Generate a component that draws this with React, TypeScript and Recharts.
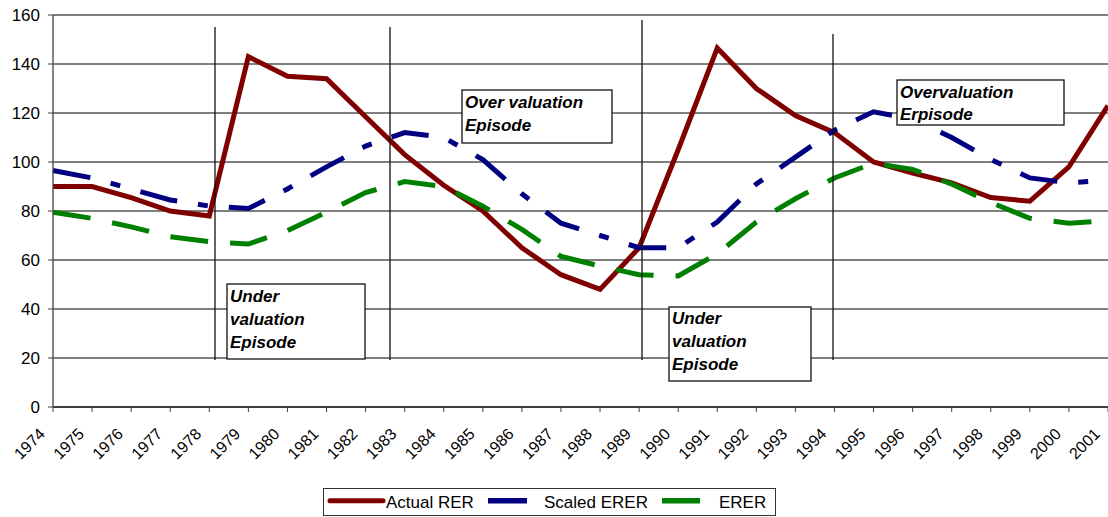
import React from 'react';
import { LineChart, Line, XAxis, YAxis, CartesianGrid, Legend } from 'recharts';

const years = [1974, 1975, 1976, 1977, 1978, 1979, 1980, 1981, 1982, 1983, 1984, 1985, 1986, 1987,
  1988, 1989, 1990, 1991, 1992, 1993, 1994, 1995, 1996, 1997, 1998, 1999, 2000, 2001];
const actualRER = [90, 90, 85.5, 80, 78, 143, 135, 134, 118.5, 103, 90.5, 80, 65, 54,
  48, 65, 105, 146.5, 130, 119, 112, 100, 95.5, 91.5, 85.5, 84, 98, 123];
const scaledERER = [96.5, 93.5, 89, 84.5, 82, 81, 89, 98, 106.5, 112, 110, 101, 87, 75,
  70, 65, 65, 75.5, 91, 102, 113, 120.5, 117.5, 110, 101, 93.5, 91.5, 92.5];
const erer = [79.5, 77, 73.5, 69.5, 67.5, 66.5, 72, 79.5, 87.5, 92, 90, 82, 72.5, 61.5,
  57.5, 54, 53.5, 62.5, 75.5, 85, 93.5, 99.5, 97, 91, 83.5, 77, 75, 76];
const yTicks = [0, 20, 40, 60, 80, 100, 120, 140, 160];
const seriesNames = ['Actual RER', 'Scaled ERER', 'ERER'];
const episodeLabels = [
  ['Under', 'valuation', 'Episode'],
  ['Over valuation', 'Episode'],
  ['Under', 'valuation', 'Episode'],
  ['Overvaluation', 'Erpisode'],
];

const data = years.map((y, i) => ({
  year: String(y),
  actual: actualRER[i],
  scaled: scaledERER[i],
  erer: erer[i],
}));

const FONT = "Arial, 'Liberation Sans', sans-serif";
const RED = '#800000';
const BLUE = '#000080';
const GREEN = '#008000';

const XTick = (props: any) => {
  const { x, y, payload } = props;
  const ax = x - 7;
  const ay = y + 21;
  return (
    <text x={ax} y={ay} transform={`rotate(-45 ${ax} ${ay})`} textAnchor="end"
      fontSize={16} fontFamily={FONT} fill="#000">
      {payload.value}
    </text>
  );
};

const LegendContent = () => (
  <svg width={453} height={28} style={{ display: 'block' }}>
    <rect x={0.5} y={0.5} width={452} height={27} fill="#fff" stroke="#333" strokeWidth={1} />
    <line x1={7} y1={12.7} x2={60} y2={12.7} stroke={RED} strokeWidth={5} strokeLinecap="round" />
    <text x={63} y={19.5} fontSize={17} fontFamily={FONT} fill="#000">{seriesNames[0]}</text>
    <rect x={165} y={10} width={39} height={5.5} fill={BLUE} />
    <text x={221} y={19.5} fontSize={17} fontFamily={FONT} fill="#000">{seriesNames[1]}</text>
    <rect x={339} y={10} width={38} height={5.5} fill={GREEN} />
    <text x={396} y={19.5} fontSize={17} fontFamily={FONT} fill="#000">{seriesNames[2]}</text>
  </svg>
);

const Box = ({ x, y, w, h, lines, tx, base, lh }: any) => (
  <g>
    <rect x={x} y={y} width={w} height={h} fill="#fff" stroke="#111" strokeWidth={1.3} />
    {lines.map((t: string, i: number) => (
      <text key={i} x={tx} y={base + i * lh} fontSize={17} fontWeight="bold" fontStyle="italic"
        fontFamily={FONT} fill="#000">{t}</text>
    ))}
  </g>
);

const Overlay = () => (
  <svg width={1108} height={517} style={{ position: 'absolute', left: 0, top: 0, pointerEvents: 'none' }}>
    <line x1={215} y1={27} x2={215} y2={360} stroke="#111" strokeWidth={1.3} />
    <line x1={390} y1={27} x2={390} y2={360} stroke="#111" strokeWidth={1.3} />
    <line x1={642} y1={20} x2={642} y2={360} stroke="#111" strokeWidth={1.3} />
    <line x1={833} y1={34} x2={833} y2={360} stroke="#111" strokeWidth={1.3} />
    <Box x={227} y={284} w={138} h={75} lines={episodeLabels[0]} tx={230} base={301.5} lh={23.2} />
    <Box x={462} y={90} w={150} h={53} lines={episodeLabels[1]} tx={465} base={108} lh={22.5} />
    <Box x={669} y={307} w={142} h={74} lines={episodeLabels[2]} tx={672} base={323.5} lh={23} />
    <Box x={897} y={80} w={167} h={45} lines={episodeLabels[3]} tx={900} base={97.5} lh={22.5} />
  </svg>
);

export default function App() {
  return (
    <div style={{ position: 'absolute', left: 0, top: 0, width: 1108, height: 517, background: '#fff' }}>
      <LineChart width={1108} height={517} data={data}
        margin={{ top: 15, right: 0, bottom: 50, left: 0 }}>
        <CartesianGrid vertical={false} stroke="#000" strokeWidth={1} />
        <XAxis dataKey="year" interval={0} tick={<XTick />} tickSize={5}
          axisLine={{ stroke: '#404040', strokeWidth: 2 }} tickLine={{ stroke: '#404040' }}
          height={60} padding={{ left: 0, right: 0 }} />
        <YAxis domain={[0, 160]} ticks={yTicks} width={53} tickSize={5} tickMargin={8}
          interval={0}
          axisLine={{ stroke: '#404040', strokeWidth: 1.3 }} tickLine={{ stroke: '#404040' }}
          tick={{ fontSize: 17, fontFamily: FONT, fill: '#000' }} />
        <Legend verticalAlign="middle" align="center" layout="horizontal"
          wrapperStyle={{ left: 323, top: 488, width: 453, height: 28 }}
          content={<LegendContent />} />
        <Line type="linear" dataKey="actual" name={seriesNames[0]} stroke={RED} strokeWidth={5}
          dot={false} isAnimationActive={false} />
        <Line type="linear" dataKey="scaled" name={seriesNames[1]} stroke={BLUE} strokeWidth={5}
          strokeDasharray="38 21 10 21" dot={false} isAnimationActive={false} />
        <Line type="linear" dataKey="erer" name={seriesNames[2]} stroke={GREEN} strokeWidth={5}
          strokeDasharray="38 22" dot={false} isAnimationActive={false} />
      </LineChart>
      <Overlay />
    </div>
  );
}
